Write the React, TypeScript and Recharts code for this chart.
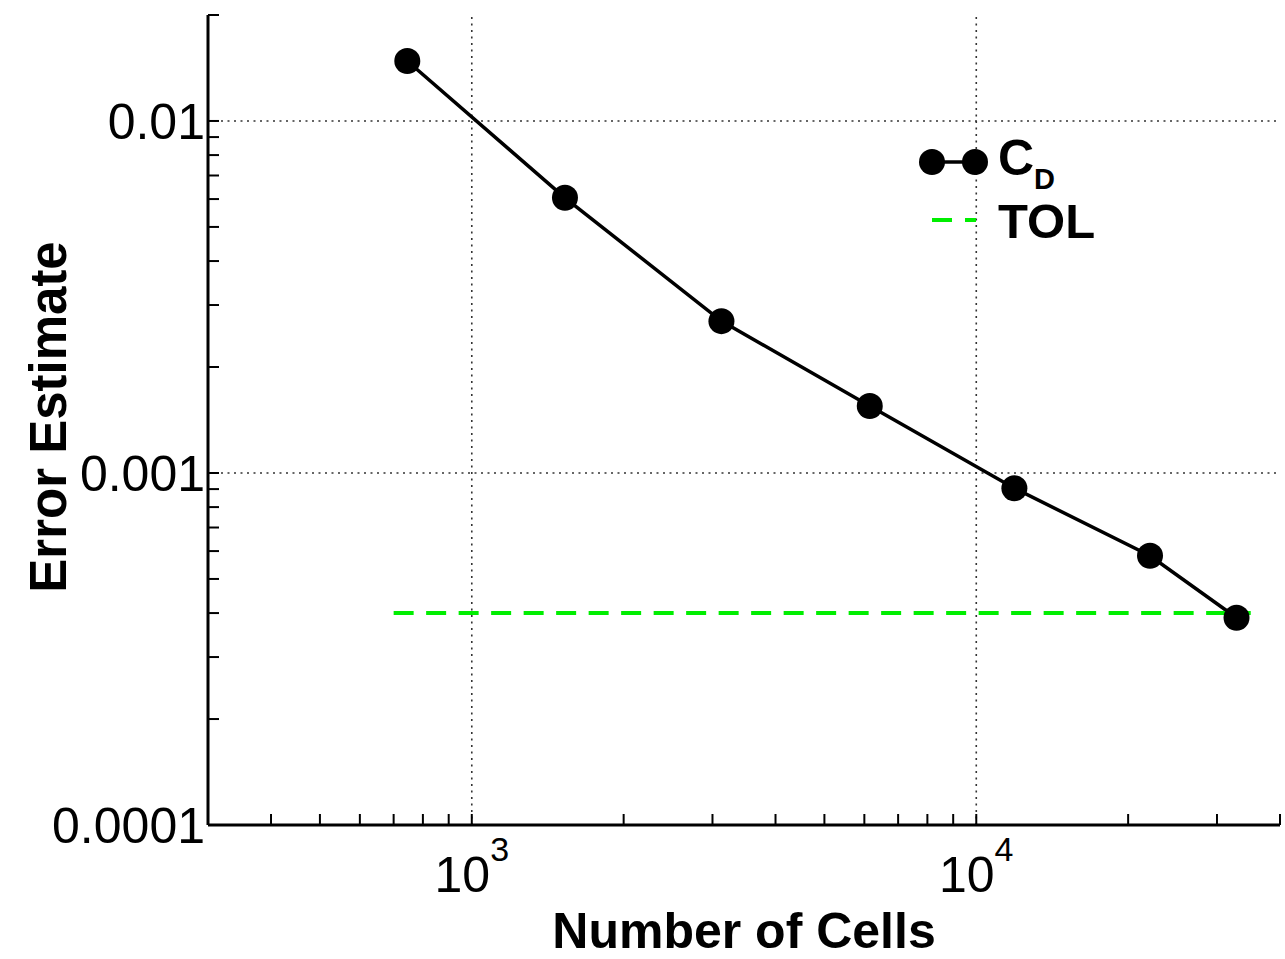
import React from "react";
import { LineChart, Line, XAxis, YAxis, ReferenceLine, Legend, Label } from "recharts";

const FONT = "'Liberation Sans', Arial, Helvetica, sans-serif";

// error estimate vs. mesh size
const cells = [745, 1530, 3125, 6150, 11900, 22100, 32800];
const errorEstimate = [0.0148, 0.00605, 0.0027, 0.00155, 0.000905, 0.000582, 0.000388];

// tolerance line
const tolCells = [700, 35000];
const tolValue = 0.0004;

const xMajorTicks = [1000, 10000];
const xMinorTicks = [400, 500, 600, 700, 800, 900, 2000, 3000, 4000, 5000, 6000, 7000, 8000, 9000, 20000, 30000, 40000];
const yMajorTicks = [0.0001, 0.001, 0.01];
const yMinorTicks = [0.0002, 0.0003, 0.0004, 0.0005, 0.0006, 0.0007, 0.0008, 0.0009,
  0.002, 0.003, 0.004, 0.005, 0.006, 0.007, 0.008, 0.009, 0.02];

const errData = cells.map((c, i) => ({ cells: c, err: errorEstimate[i] }));
const tolData = tolCells.map((c) => ({ cells: c, tol: tolValue }));

const xTicks = [...xMajorTicks, ...xMinorTicks].sort((a, b) => a - b);
const yTicks = [...yMajorTicks, ...yMinorTicks].sort((a, b) => a - b);

const XTick = (props: any) => {
  const { x, y, payload } = props;
  const v = payload.value;
  const major = xMajorTicks.includes(v);
  return (
    <g>
      <line x1={x} x2={x} y1={y} y2={y - 11} stroke="#000" strokeWidth={2} />
      {major && (
        <text x={x} y={y + 67} textAnchor="middle" fontSize={50} fill="#000" fontFamily={FONT}>
          10<tspan dy={-31} fontSize={34}>{Math.round(Math.log10(v))}</tspan>
        </text>
      )}
    </g>
  );
};

const YTick = (props: any) => {
  const { x, y, payload } = props;
  const v = payload.value;
  const major = yMajorTicks.includes(v);
  return (
    <g>
      <line x1={x} x2={x + 11} y1={y} y2={y} stroke="#000" strokeWidth={2} />
      {major && (
        <text x={x - 3} y={y} dy="0.36em" textAnchor="end" fontSize={50} fill="#000" fontFamily={FONT}>
          {String(v)}
        </text>
      )}
    </g>
  );
};

const LegendBox = (props: any) => {
  const payload = props.payload || [];
  return (
    <svg width={230} height={140} style={{ overflow: "visible" }}>
      {payload.map((entry: any, i: number) => {
        if (entry.dataKey === "err") {
          return (
            <g key={i}>
              <line x1={32} x2={75} y1={42} y2={42} stroke="#000" strokeWidth={3.5} />
              <circle cx={32} cy={42} r={13} fill="#000" />
              <circle cx={75} cy={42} r={13} fill="#000" />
              <text x={98} y={55} fontSize={50} fontWeight="bold" fontFamily={FONT} fill="#000">
                C<tspan dy={14} fontSize={29}>D</tspan>
              </text>
            </g>
          );
        }
        return (
          <g key={i}>
            <line x1={32} x2={76} y1={100} y2={100} stroke={entry.color} strokeWidth={4} strokeDasharray="20 13" />
            <text x={98} y={118} fontSize={49} fontWeight="bold" fontFamily={FONT} fill="#000">
              TOL
            </text>
          </g>
        );
      })}
    </svg>
  );
};

const gridStyle = { stroke: "#333", strokeWidth: 1.6, strokeDasharray: "2 4.5" };

export default function App() {
  return (
    <div style={{ position: "absolute", left: 0, top: 0, background: "#fff" }}>
      <LineChart width={1285} height={959} margin={{ top: 15, right: 5, left: 0, bottom: 0 }}>
        <XAxis
          dataKey="cells"
          type="number"
          scale="log"
          domain={[300, 40000]}
          allowDataOverflow
          ticks={xTicks}
          interval={0}
          tickSize={0}
          tickMargin={0}
          tickLine={false}
          tick={<XTick />}
          height={134}
          axisLine={{ stroke: "#000", strokeWidth: 3 }}
        >
          <Label
            content={(p: any) => {
              const vb = p.viewBox || { x: 208, y: 825, width: 1072, height: 134 };
              return (
                <text x={vb.x + vb.width / 2} y={vb.y + 123} textAnchor="middle" fontSize={50}
                  fontWeight="bold" fontFamily={FONT} fill="#000">
                  Number of Cells
                </text>
              );
            }}
          />
        </XAxis>
        <YAxis
          type="number"
          scale="log"
          domain={[0.0001, 0.02]}
          allowDataOverflow
          ticks={yTicks}
          interval={0}
          tickSize={0}
          tickMargin={0}
          tickLine={false}
          tick={<YTick />}
          width={208}
          axisLine={{ stroke: "#000", strokeWidth: 3 }}
        >
          <Label
            content={(p: any) => {
              const vb = p.viewBox || { x: 0, y: 15, width: 208, height: 810 };
              const cx = 66;
              const cy = vb.y + vb.height / 2 - 3;
              return (
                <text x={cx} y={cy} transform={`rotate(-90, ${cx}, ${cy})`} textAnchor="middle"
                  fontSize={51} fontWeight="bold" fontFamily={FONT} fill="#000">
                  Error Estimate
                </text>
              );
            }}
          />
        </YAxis>
        {xMajorTicks.map((t) => (
          <ReferenceLine key={"vx" + t} x={t} {...gridStyle} />
        ))}
        {yMajorTicks.slice(1).map((t) => (
          <ReferenceLine key={"hy" + t} y={t} {...gridStyle} />
        ))}
        <Line
          data={errData}
          dataKey="err"
          name="CD"
          stroke="#000"
          strokeWidth={3.5}
          dot={{ r: 13, fill: "#000", stroke: "none" }}
          activeDot={false}
          isAnimationActive={false}
        />
        <Line
          data={tolData}
          dataKey="tol"
          name="TOL"
          stroke="#00ee00"
          strokeWidth={4}
          strokeDasharray="20 12.5"
          dot={false}
          activeDot={false}
          isAnimationActive={false}
        />
        <Legend
          layout="vertical"
          align="center"
          verticalAlign="middle"
          content={<LegendBox />}
          wrapperStyle={{ left: 900, top: 120, width: 230, height: 140 }}
        />
      </LineChart>
    </div>
  );
}
